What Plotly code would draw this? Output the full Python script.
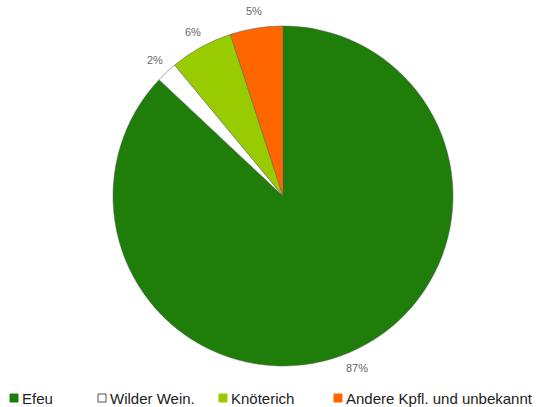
import math
import plotly.graph_objects as go

labels = ["Efeu", "Wilder Wein.", "Knöterich", "Andere Kpfl. und unbekannt"]
values = [87, 2, 6, 5]
colors = ["#1f7d0a", "#ffffff", "#99cc00", "#ff6600"]

# layout (pixels)
W, H = 550, 407
ML, MR, MT, MB = 16, 0, 26, 41
PW, PH = W - ML - MR, H - MT - MB
CX, CY, R = ML + PW / 2, MT + PH / 2, min(PW, PH) / 2
LABEL_R = R + 17
legend_px = [10, 98, 219, 334]
legend_py = 398


def px2paper(x, y):
    return (x - ML) / PW, (H - MB - y) / PH


fig = go.Figure(go.Pie(
    labels=labels,
    values=values,
    sort=False,
    direction="clockwise",
    rotation=0,
    marker=dict(colors=colors, line=dict(color="rgba(90,90,90,0.7)", width=0.7)),
    textinfo="none",
    domain=dict(x=[0, 1], y=[0, 1]),
    hoverinfo="label+percent",
    showlegend=False,
))

total = sum(values)
cum = 0
for v in values:
    theta = 2 * math.pi * (cum + v / 2) / total
    cum += v
    lx, ly = px2paper(CX + LABEL_R * math.sin(theta), CY - LABEL_R * math.cos(theta))
    fig.add_annotation(x=lx, y=ly, xref="paper", yref="paper", text=f"{v}%",
                       showarrow=False, xanchor="center", yanchor="middle",
                       font=dict(family="Liberation Sans, Arial, sans-serif", size=11, color="#666666"))

for lab, col, x in zip(labels, colors, legend_px):
    x0, y0 = px2paper(x, legend_py + 4)
    x1, y1 = px2paper(x + 8, legend_py - 4)
    fig.add_shape(type="rect", xref="paper", yref="paper", x0=x0, x1=x1, y0=y0, y1=y1,
                  fillcolor=col, line=dict(color="#555555" if col == "#ffffff" else col, width=1))
    tx, ty = px2paper(x + 10, legend_py)
    fig.add_annotation(x=tx, y=ty, xref="paper", yref="paper", text=lab, showarrow=False,
                       xanchor="left", yanchor="middle",
                       font=dict(family="Liberation Sans, Arial, sans-serif", size=15, color="#222222"))

fig.update_layout(
    width=W, height=H,
    margin=dict(l=ML, r=MR, t=MT, b=MB, autoexpand=False),
    paper_bgcolor="white",
    plot_bgcolor="white",
    showlegend=False,
)

fig.write_html("out.html")
